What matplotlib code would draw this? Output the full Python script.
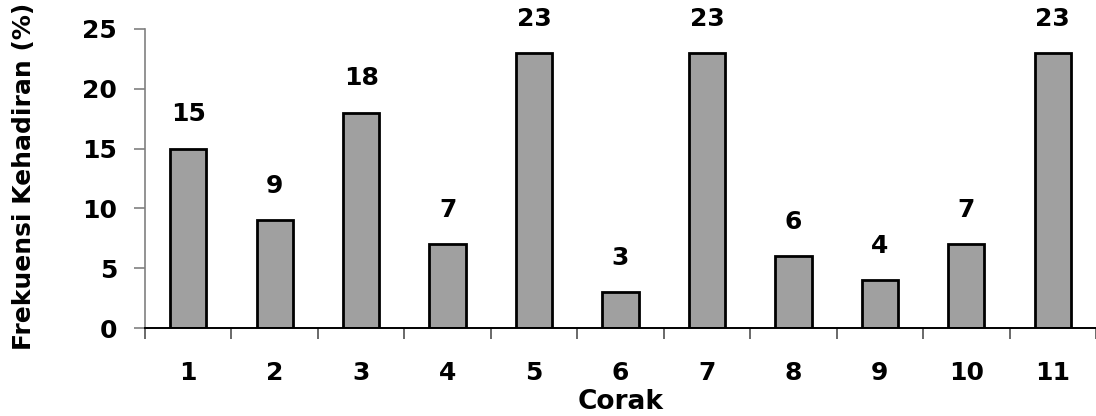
import numpy as np
from matplotlib import pyplot as plt
from matplotlib.ticker import FixedLocator

# dati
corak = ["1", "2", "3", "4", "5", "6", "7", "8", "9", "10", "11"]
frekuensi = [15, 9, 18, 7, 23, 3, 23, 6, 4, 7, 23]

plt.rcParams['font.family'] = ['DejaVu Sans']
plt.rcParams['font.weight'] = 'bold'

fig = plt.figure(figsize=(10.96, 4.16), dpi=100)
ax = fig.add_axes([0.1323, 0.2115, 0.8677, 0.7188])

x = np.arange(len(corak))
bars = ax.bar(x, frekuensi, width=0.42, color='#a0a0a0', edgecolor='black', linewidth=2)

# etichette sopra le barre
for xi, v in zip(x, frekuensi):
    ax.annotate(str(v), (xi, v), xytext=(0, 16), textcoords='offset points',
                ha='center', va='bottom', fontsize=18, fontweight='bold')

ax.set_xlim(-0.5, len(corak) - 0.5)
ax.set_ylim(0, 25)
ax.set_yticks([0, 5, 10, 15, 20, 25])
ax.tick_params(axis='y', length=8, width=1.2, color='#808080', pad=12, labelsize=18)

ax.set_xticks(x)
ax.set_xticklabels(corak)
ax.xaxis.set_minor_locator(FixedLocator(np.arange(len(corak) + 1) - 0.5))
ax.tick_params(axis='x', which='major', length=0, pad=24, labelsize=18)
ax.tick_params(axis='x', which='minor', length=8, width=1.2, color='#505050')

for lab in ax.get_xticklabels() + ax.get_yticklabels():
    lab.set_fontweight('bold')

ax.spines['top'].set_visible(False)
ax.spines['right'].set_visible(False)
ax.spines['left'].set_color('#808080')
ax.spines['left'].set_linewidth(1.2)
ax.spines['bottom'].set_color('black')
ax.spines['bottom'].set_linewidth(1.4)

fig.text(0.5667, 0.033, "Corak", ha='center', va='center', fontsize=19, fontweight='bold')
fig.text(0.022, 1 - 176 / 416, "Frekuensi Kehadiran (%)", rotation=90, ha='center', va='center',
         fontsize=18, fontweight='bold')

fig.savefig("out.png", dpi=100)
